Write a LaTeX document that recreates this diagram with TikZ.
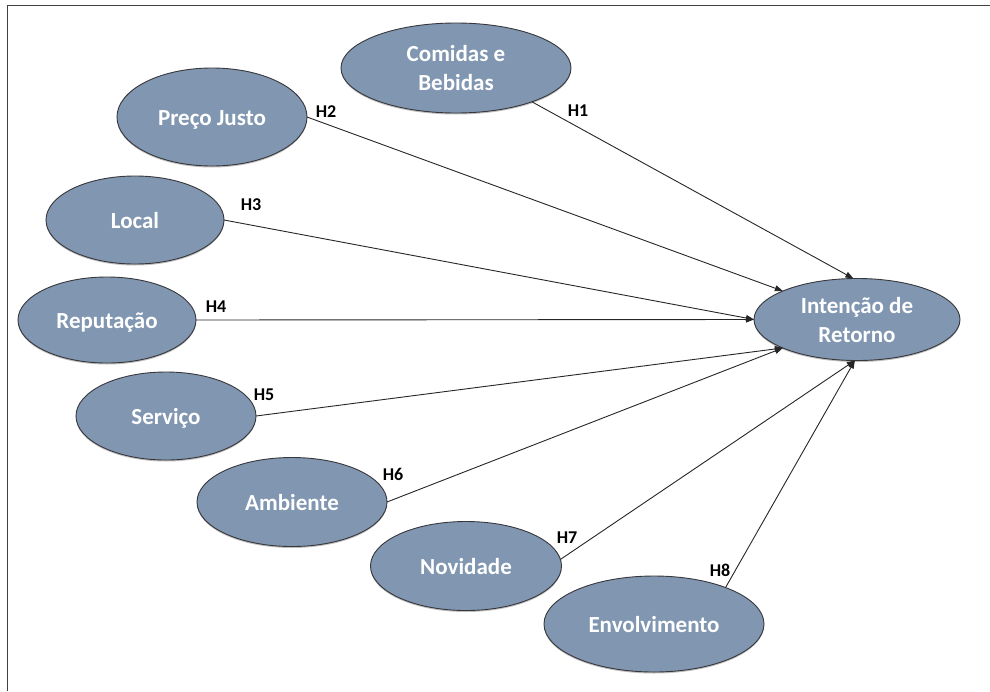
\documentclass[tikz,border=0pt]{standalone}
\usepackage{fontspec}
\setmainfont{Carlito}
\usetikzlibrary{arrows.meta,shapes.geometric,shadows}
\definecolor{ovalfill}{RGB}{128,150,177}
\definecolor{ovaledge}{RGB}{55,55,60}
\newcommand{\ovtext}[1]{\raisebox{-2.5pt}[\height][\depth]{\begin{tabular}{@{}c@{}}#1\end{tabular}}}
\begin{document}
\begin{tikzpicture}[x=1pt,y=-1pt,
  oval/.style={ellipse, draw=ovaledge, line width=0.9pt, fill=ovalfill,
    inner sep=0pt, outer sep=0pt, text=white,
    font=\fontsize{23}{29}\selectfont\bfseries,
    drop shadow={shadow xshift=0pt, shadow yshift=-1.5pt, opacity=0.25, fill=black}},
  link/.style={draw=black!85, line width=0.9pt, -{Triangle[length=8pt,width=6pt]}},
  hlabel/.style={font=\fontsize{18}{20}\selectfont\bfseries, inner sep=0pt, text=black}]
\useasboundingbox (0,0) rectangle (990,691);
\draw[line width=1.6pt, black!75] (7.5,691) -- (7.5,5.5) -- (990,5.5);

\node[oval, minimum width=230pt, minimum height=90pt] (comidas) at (456,68) {\ovtext{Comidas e\\Bebidas}};
\node[oval, minimum width=190pt, minimum height=98pt] (preco) at (212,117) {\ovtext{Preço Justo}};
\node[oval, minimum width=178pt, minimum height=88pt] (local) at (135,220) {\ovtext{Local}};
\node[oval, minimum width=178pt, minimum height=86pt] (reput) at (107,320) {\ovtext{Reputação}};
\node[oval, minimum width=180pt, minimum height=88pt] (servico) at (166,416) {\ovtext{Serviço}};
\node[oval, minimum width=190pt, minimum height=89pt] (ambiente) at (292,502) {\ovtext{Ambiente}};
\node[oval, minimum width=191pt, minimum height=89pt] (novidade) at (466,566) {\ovtext{Novidade}};
\node[oval, minimum width=220pt, minimum height=96pt] (envolv) at (654,624) {\ovtext{Envolvimento}};
\node[oval, minimum width=206pt, minimum height=81pt] (intencao) at (857,319.5) {\ovtext{Intenção de\\Retorno}};

\draw[link] (comidas.-24) -- (intencao.95);
\draw[link] (preco.0) -- (intencao.159);
\draw[link] (local.0) -- (intencao.180);
\draw[link] (reput.0) -- (intencao.180);
\draw[link] (servico.0) -- (intencao.201);
\draw[link] (ambiente.0) -- (intencao.201);
\draw[link] (novidade.4) -- (intencao.267);
\draw[link] (envolv.27) -- (intencao.267);

\node[hlabel] (h1) at (578,111) {H1};
\node[hlabel] (h2) at (326,112) {H2};
\node[hlabel] (h3) at (251,205) {H3};
\node[hlabel] (h4) at (216,307) {H4};
\node[hlabel] (h5) at (264,395) {H5};
\node[hlabel] (h6) at (393,474) {H6};
\node[hlabel] (h7) at (567,538) {H7};
\node[hlabel] (h8) at (720,570) {H8};
\end{tikzpicture}
\end{document}
